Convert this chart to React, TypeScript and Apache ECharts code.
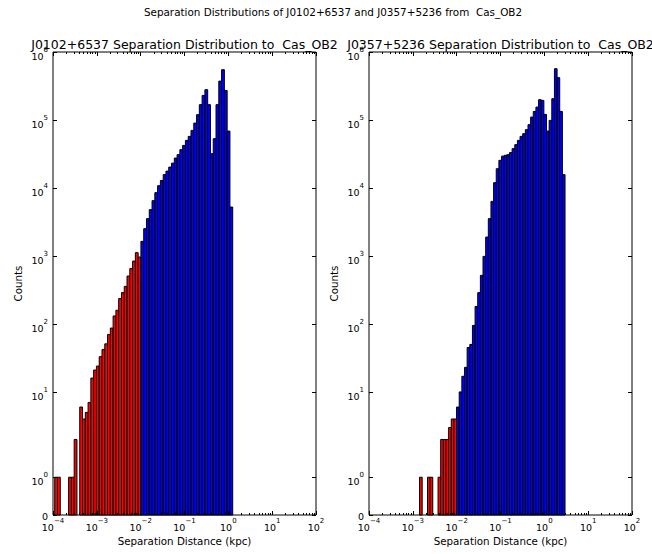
import { useEffect, useRef } from 'react';
import * as echarts from 'echarts';

const FONT = 'DejaVu Sans';

const figureTitle = 'Separation Distributions of J0102+6537 and J0357+5236 from  Cas_OB2';
const panelTitles = [
  'J0102+6537 Separation Distribution to  Cas_OB2',
  'J0357+5236 Separation Distribution to  Cas_OB2',
];
const xAxisTitle = 'Separation Distance (kpc)';
const yAxisTitle = 'Counts';

// log10(kpc) of the outer histogram edges; bins are equal-width in log space
const leftBinRange = [-3.961, 0.1];
const rightBinRange = [-2.847, 0.472];

// separations below this are drawn red, the rest blue
const closeLimitKpc = 0.01;

const leftCounts = [
  1, 1, 0, 0, 0, 1, 1, 2, 0, 6, 4, 5, 7, 16, 21, 24, 33, 42, 51, 70, 87, 131, 159, 236, 289, 357, 507,
  651, 841, 1119, 964, 1640, 2520, 3540, 4800, 6500, 8530, 10800, 12900, 15700, 17700, 20300, 23200,
  27500, 30900, 36600, 42300, 50100, 57400, 70300, 90000, 119700, 168000, 230000, 279000, 168000,
  31900, 53100, 168000, 373000, 549000, 272000, 68700, 5240,
];

const rightCounts = [
  1, 0, 0, 1, 1, 0, 0, 1, 2, 2, 2, 3, 4, 4, 6, 10, 17, 23, 45, 50, 95, 181, 289, 518, 986, 1897, 3540,
  6350, 11970, 19200, 25500, 29400, 30200, 30900, 33100, 37900, 43400, 50100, 57400, 62900, 72000,
  85300, 110400, 133700, 154800, 199000, 194000, 120800, 68700, 98600, 205600, 568000, 419000,
  133700, 15700,
];

// x axis: decades of 10^-4 .. 10^2 kpc
const xDecades = [-4, -3, -2, -1, 0, 1, 2];
// y axis: count ticks on the symmetric-log scale
const yTickCounts = [0, 1, 10, 100, 1000, 10000, 100000, 1000000];
const yTickText = ['0', '0', '1', '2', '3', '4', '5', '6'];

// symmetric log transform: linear below the threshold, log10 above it
const LIN_THRESH = 2;
const LIN_SCALE = 1 / (1 - 1 / 10);
function symlog(v: number): number {
  if (v <= LIN_THRESH) return v * LIN_SCALE;
  return LIN_THRESH * (LIN_SCALE + Math.log10(v / LIN_THRESH));
}

const yTickPos = yTickCounts.map(symlog);
const yMax = symlog(1000000);

const minorTicks: number[] = [];
for (let d = -4; d < 2; d++) {
  for (let k = 2; k <= 9; k++) minorTicks.push(d + Math.log10(k));
}

function sup(exp: string): string {
  const e = exp.startsWith('-') ? '\u2212' + exp.slice(1) : exp;
  return `{b|10}{s|${e}}`;
}

const richStyles = {
  b: { fontSize: 9.5, fontFamily: FONT, color: '#000', lineHeight: 15, verticalAlign: 'bottom' },
  s: { fontSize: 7, fontFamily: FONT, color: '#000', lineHeight: 6, verticalAlign: 'top' },
  z: { fontSize: 9.5, fontFamily: FONT, color: '#000', lineHeight: 11, verticalAlign: 'top' },
};

const grids = [
  { left: 53, top: 52, width: 263, height: 463 },
  { left: 369, top: 52, width: 263, height: 463 },
];

function histData(counts: number[], range: number[]) {
  const w = (range[1] - range[0]) / counts.length;
  const limit = Math.log10(closeLimitKpc);
  const out: number[][] = [];
  counts.forEach((c, k) => {
    if (c <= 0) return;
    const lo = range[0] + k * w;
    const hi = lo + w;
    const isClose = (lo + hi) / 2 < limit ? 1 : 0;
    out.push([lo, hi, symlog(c), c, isClose]);
  });
  return out;
}

function buildOption() {
  const xAxes: any[] = [];
  const yAxes: any[] = [];
  const series: any[] = [];
  const graphics: any[] = [];

  const panels = [
    { counts: leftCounts, range: leftBinRange },
    { counts: rightCounts, range: rightBinRange },
  ];

  panels.forEach((p, i) => {
    const baseX = {
      gridIndex: i,
      type: 'value',
      min: -4,
      max: 2,
      interval: 1,
      z: 5,
      axisLine: { show: false, onZero: false },
      splitLine: { show: false },
    };
    // bottom major ticks with labels
    xAxes.push({
      ...baseX,
      position: 'bottom',
      axisTick: { show: true, inside: true, length: 4, lineStyle: { color: '#000', width: 1 } },
      axisLabel: {
        show: true,
        margin: 2.5,
        formatter: (v: number) => sup(String(Math.round(v))),
        rich: richStyles,
      },
    });
    // bottom minor ticks
    xAxes.push({
      ...baseX,
      position: 'bottom',
      axisTick: {
        show: true,
        inside: true,
        length: 2,
        customValues: minorTicks,
        lineStyle: { color: '#000', width: 1 },
      },
      axisLabel: { show: false },
    });
    // top major ticks
    xAxes.push({
      ...baseX,
      position: 'top',
      axisTick: { show: true, inside: true, length: 4, lineStyle: { color: '#000', width: 1 } },
      axisLabel: { show: false },
    });
    // top minor ticks
    xAxes.push({
      ...baseX,
      position: 'top',
      axisTick: {
        show: true,
        inside: true,
        length: 2,
        customValues: minorTicks,
        lineStyle: { color: '#000', width: 1 },
      },
      axisLabel: { show: false },
    });

    const baseY = {
      gridIndex: i,
      type: 'value',
      min: 0,
      max: yMax,
      z: 5,
      axisLine: { show: false, onZero: false },
      splitLine: { show: false },
      axisTick: {
        show: true,
        inside: true,
        length: 4,
        customValues: yTickPos,
        lineStyle: { color: '#000', width: 1 },
      },
    };
    yAxes.push({
      ...baseY,
      position: 'left',
      axisLabel: {
        show: true,
        margin: 5,
        customValues: yTickPos,
        padding: [4, 0, 0, 0],
        formatter: (v: number) => {
          const idx = yTickPos.findIndex((t) => Math.abs(t - v) < 1e-6);
          if (idx <= 0) return '{z|0}';
          return sup(yTickText[idx]);
        },
        rich: richStyles,
      },
    });
    yAxes.push({
      ...baseY,
      position: 'right',
      axisLabel: { show: false },
    });

    series.push({
      type: 'custom',
      xAxisIndex: i * 4,
      yAxisIndex: i * 2,
      encode: { x: [0, 1], y: 2 },
      data: histData(p.counts, p.range),
      renderItem: (_params: any, api: any) => {
        const x0 = api.value(0);
        const x1 = api.value(1);
        const y = api.value(2);
        const close = api.value(4);
        const topLeft = api.coord([x0, y]);
        const bottomRight = api.coord([x1, 0]);
        return {
          type: 'rect',
          shape: {
            x: topLeft[0],
            y: topLeft[1],
            width: bottomRight[0] - topLeft[0],
            height: bottomRight[1] - topLeft[1],
          },
          style: {
            fill: close ? '#ff0000' : '#0000ff',
            stroke: '#000',
            lineWidth: 1,
          },
        };
      },
    });

    const g = grids[i];
    const cx = g.left + g.width / 2;
    graphics.push({
      type: 'text',
      x: cx,
      y: 44.5,
      z: 10,
      style: {
        text: panelTitles[i],
        fontSize: 12.5,
        fontFamily: FONT,
        fill: '#000',
        align: 'center',
        verticalAlign: 'middle',
      },
    });
    graphics.push({
      type: 'text',
      x: cx,
      y: 540.5,
      style: {
        text: xAxisTitle,
        fontSize: 10.3,
        fontFamily: FONT,
        fill: '#000',
        align: 'center',
        verticalAlign: 'middle',
      },
    });
    graphics.push({
      type: 'text',
      x: g.left - 35,
      y: g.top + g.height / 2,
      rotation: Math.PI / 2,
      style: {
        text: yAxisTitle,
        fontSize: 10.3,
        fontFamily: FONT,
        fill: '#000',
        align: 'center',
        verticalAlign: 'middle',
      },
    });
  });

  graphics.push({
    type: 'text',
    x: 333,
    y: 11.5,
    style: {
      text: figureTitle,
      fontSize: 10.4,
      fontFamily: FONT,
      fill: '#000',
      align: 'center',
      verticalAlign: 'middle',
    },
  });

  return {
    animation: false,
    backgroundColor: '#ffffff',
    grid: grids.map((g) => ({
      ...g,
      show: true,
      borderColor: '#000',
      borderWidth: 1,
      backgroundColor: 'transparent',
      containLabel: false,
    })),
    xAxis: xAxes,
    yAxis: yAxes,
    series,
    graphic: { elements: graphics },
  };
}

export default function App() {
  const ref = useRef<HTMLDivElement>(null);

  useEffect(() => {
    if (!ref.current) return;
    const chart = echarts.init(ref.current, undefined, { renderer: 'svg' });
    chart.setOption(buildOption() as any);
    return () => {
      chart.dispose();
    };
  }, []);

  return (
    <div
      ref={ref}
      style={{ position: 'fixed', left: 0, top: 0, width: 652, height: 554, background: '#fff' }}
    />
  );
}
